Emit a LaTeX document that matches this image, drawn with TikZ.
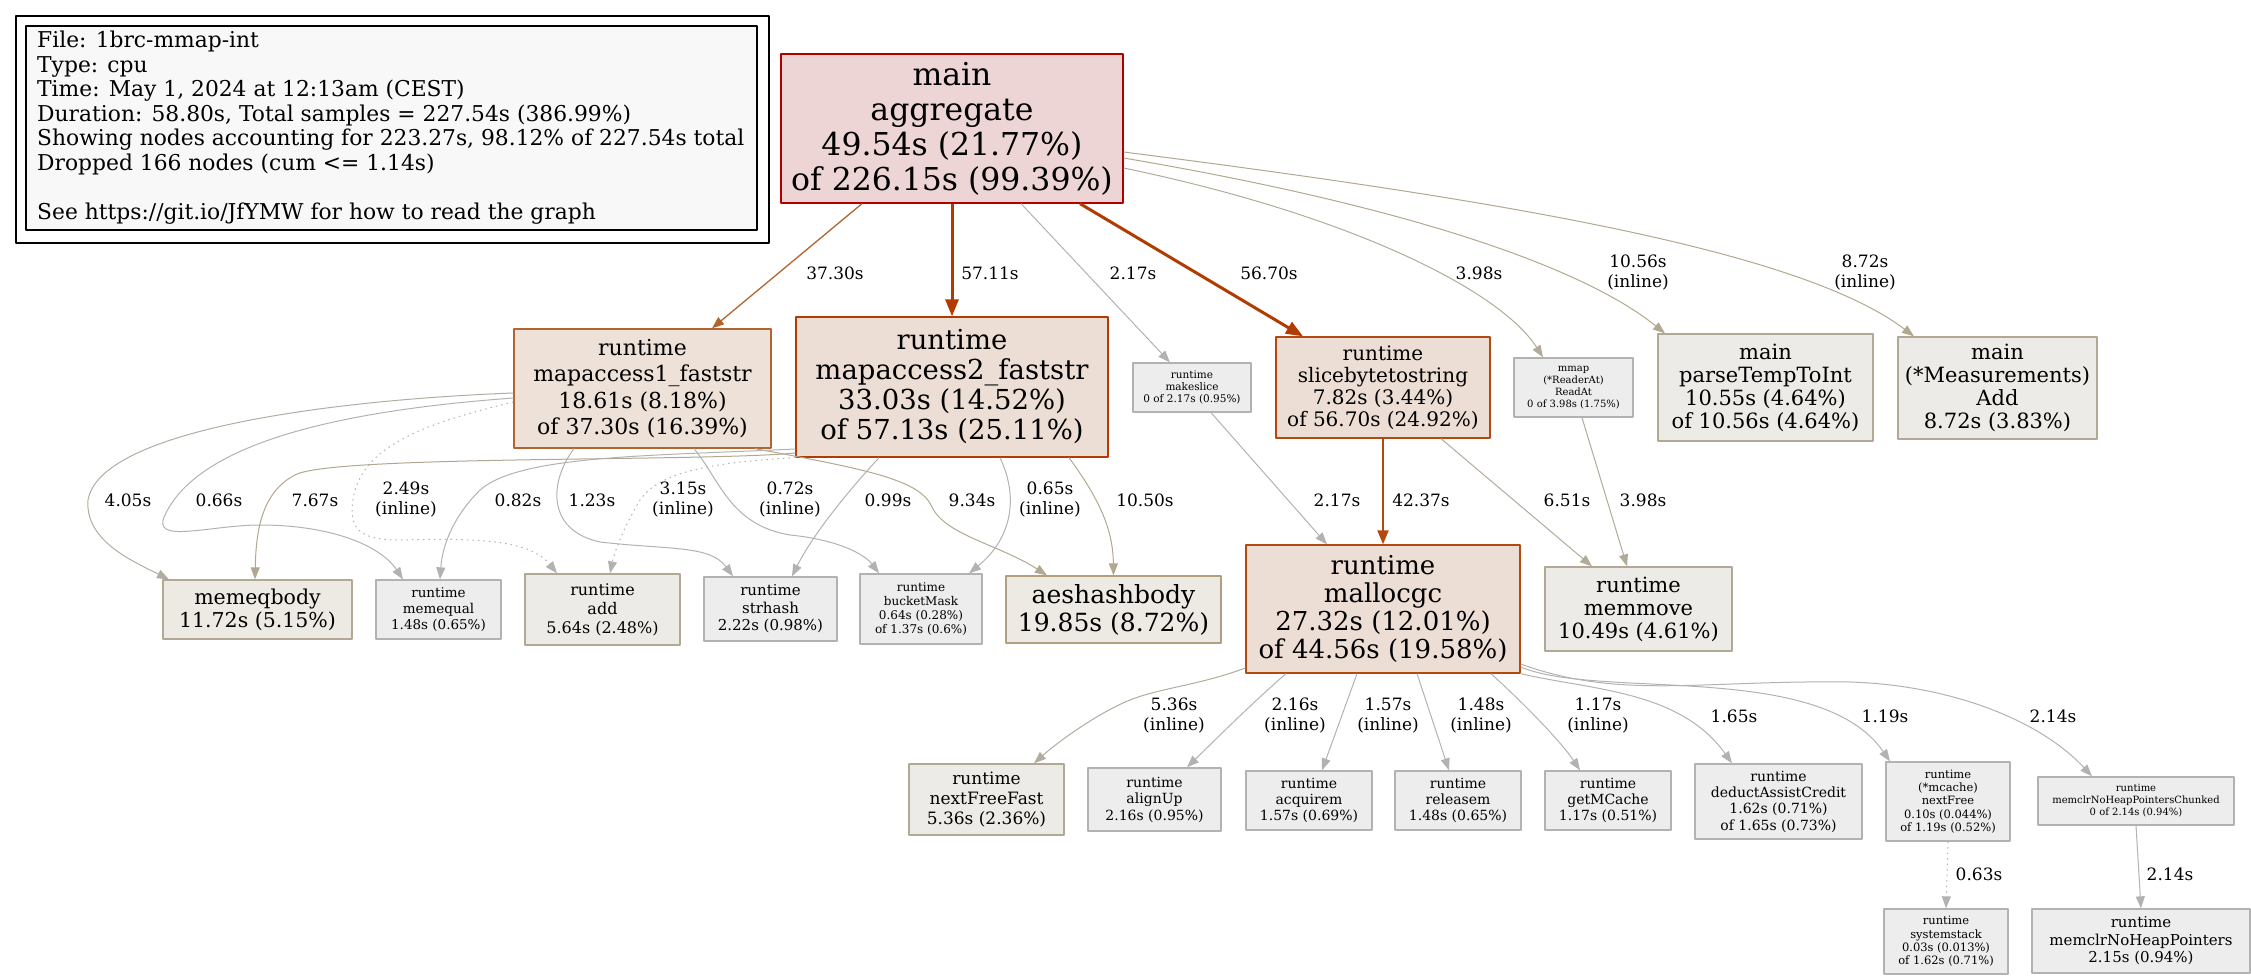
\documentclass[tikz,border=0pt]{standalone}
\usepackage{fontspec}
\setmainfont{DejaVu Serif}
\usetikzlibrary{arrows.meta,calc}

\definecolor{hotline}{HTML}{B20000}
\definecolor{hotfill}{HTML}{EDD5D5}
\definecolor{warmline}{HTML}{B23C00}
\definecolor{warmfill}{HTML}{EDDED5}
\definecolor{oneline}{HTML}{B2652F}
\definecolor{onefill}{HTML}{EDE1D8}
\definecolor{tanline}{HTML}{B2A893}
\definecolor{tanfill}{HTML}{EDEBE8}
\definecolor{aesline}{HTML}{B29F80}
\definecolor{aesfill}{HTML}{EDE9E3}
\definecolor{greyline}{HTML}{B2B2B2}
\definecolor{greyfill}{HTML}{EDEDED}
\definecolor{legfill}{HTML}{F8F8F8}
\definecolor{egrey}{HTML}{B2B2B2}
\definecolor{etan}{HTML}{B2A890}
\definecolor{eorange}{HTML}{B2642C}
\definecolor{ehot}{HTML}{B23C00}
\definecolor{emid}{HTML}{B2490E}

\begin{document}
\begin{tikzpicture}[x=1pt, y=-1pt, line join=round,
    box/.style={draw, rectangle, inner sep=0pt, align=center, line width=1.3pt},
    fnt/.style 2 args={font=\fontsize{#1}{#2}\selectfont},
    hotbox/.style={box, draw=hotline, fill=hotfill},
    warmbox/.style={box, draw=warmline, fill=warmfill},
    onebox/.style={box, draw=oneline, fill=onefill},
    tanbox/.style={box, draw=tanline, fill=tanfill},
    aesbox/.style={box, draw=aesline, fill=aesfill},
    greybox/.style={box, draw=greyline, fill=greyfill},
    lbl/.style={inner sep=0pt, align=center, font=\fontsize{17}{20}\selectfont},
    e/.style={-{Triangle[length=12,width=9]}, line width=1pt, draw=egrey},
    fat/.style={-{Triangle[length=17,width=13]}, line width=3pt, draw=ehot},
    dots/.style={dash pattern=on 1.5pt off 4pt}]
  \useasboundingbox (0,0) rectangle (2251,976);

  % legend
  \draw[line width=1.4pt] (16,16) rectangle (769,243);
  \draw[line width=1.4pt, fill=legfill] (26,26) rectangle (757,230);
  \node[anchor=north west, inner sep=0pt, align=left, fnt={21.8}{24.5}] (legend) at (37,31)
    {File: 1brc-mmap-int\\Type: cpu\\Time: May 1, 2024 at 12:13am (CEST)\\
     Duration: 58.80s, Total samples = 227.54s (386.99\%)\\
     Showing nodes accounting for 223.27s, 98.12\% of 227.54s total\\
     Dropped 166 nodes (cum <= 1.14s)\\ \\
     See https://git.io/JfYMW for how to read the graph};

  % nodes
  \node[hotbox, fnt={31.5}{35}, minimum width=342, minimum height=149] (main) at (952,128.5)
    {main\\aggregate\\49.54s (21.77\%)\\of 226.15s (99.39\%)};
  \node[onebox, fnt={22}{26.5}, minimum width=257, minimum height=119] (mapone) at (642.5,388.5)
    {runtime\\mapaccess1\_faststr\\18.61s (8.18\%)\\of 37.30s (16.39\%)};
  \node[warmbox, fnt={27.5}{30}, minimum width=312, minimum height=140] (maptwo) at (952,387)
    {runtime\\mapaccess2\_faststr\\33.03s (14.52\%)\\of 57.13s (25.11\%)};
  \node[greybox, fnt={10.5}{12}, minimum width=118, minimum height=49] (makeslice) at (1192,387.5)
    {runtime\\makeslice\\0 of 2.17s (0.95\%)};
  \node[warmbox, draw=emid, fnt={20}{22}, minimum width=214, minimum height=101] (slice) at (1383,387.5)
    {runtime\\slicebytetostring\\7.82s (3.44\%)\\of 56.70s (24.92\%)};
  \node[greybox, fnt={10}{12}, minimum width=119, minimum height=59] (readat) at (1573.5,387.5)
    {mmap\\(*ReaderAt)\\ReadAt\\0 of 3.98s (1.75\%)};
  \node[tanbox, fnt={21}{23}, minimum width=215, minimum height=107] (parse) at (1765.5,387.5)
    {main\\parseTempToInt\\10.55s (4.64\%)\\of 10.56s (4.64\%)};
  \node[tanbox, fnt={21}{23}, minimum width=199, minimum height=102] (measadd) at (1997.5,388)
    {main\\(*Measurements)\\Add\\8.72s (3.83\%)};

  \node[aesbox, draw=tanline, fnt={20.5}{23}, minimum width=189, minimum height=59] (memeq) at (257.5,609.5)
    {memeqbody\\11.72s (5.15\%)};
  \node[greybox, fnt={13.5}{16}, minimum width=125, minimum height=59] (memequal) at (438.5,609.5)
    {runtime\\memequal\\1.48s (0.65\%)};
  \node[greybox, draw=tanline, fill=tanfill, fnt={16}{19}, minimum width=155, minimum height=71] (add) at (602.5,609.5)
    {runtime\\add\\5.64s (2.48\%)};
  \node[greybox, fnt={15}{17.5}, minimum width=133, minimum height=64] (strhash) at (770.5,609)
    {runtime\\strhash\\2.22s (0.98\%)};
  \node[greybox, fnt={12}{14}, minimum width=122, minimum height=70] (bucket) at (921,609)
    {runtime\\bucketMask\\0.64s (0.28\%)\\of 1.37s (0.6\%)};
  \node[aesbox, fnt={25}{28}, minimum width=215, minimum height=67] (aeshash) at (1113.5,609.5)
    {aeshashbody\\19.85s (8.72\%)};
  \node[warmbox, draw=emid, fnt={26}{28}, minimum width=274, minimum height=128] (malloc) at (1383,609)
    {runtime\\mallocgc\\27.32s (12.01\%)\\of 44.56s (19.58\%)};
  \node[tanbox, fnt={21}{23}, minimum width=187, minimum height=84] (memmove) at (1638.5,609)
    {runtime\\memmove\\10.49s (4.61\%)};

  \node[greybox, draw=tanline, fill=tanfill, fnt={17}{20}, minimum width=155, minimum height=71] (nffast) at (986.5,799.5)
    {runtime\\nextFreeFast\\5.36s (2.36\%)};
  \node[greybox, fnt={14}{16.5}, minimum width=133, minimum height=63] (alignup) at (1154.5,799.5)
    {runtime\\alignUp\\2.16s (0.95\%)};
  \node[greybox, fnt={14}{16}, minimum width=126, minimum height=59] (acquirem) at (1309,800.5)
    {runtime\\acquirem\\1.57s (0.69\%)};
  \node[greybox, fnt={14}{16}, minimum width=126, minimum height=59] (releasem) at (1458,800.5)
    {runtime\\releasem\\1.48s (0.65\%)};
  \node[greybox, fnt={14}{16}, minimum width=126, minimum height=59] (getmc) at (1608,800.5)
    {runtime\\getMCache\\1.17s (0.51\%)};
  \node[greybox, fnt={14}{16.3}, minimum width=167, minimum height=75] (deduct) at (1778.5,801.5)
    {runtime\\deductAssistCredit\\1.62s (0.71\%)\\of 1.65s (0.73\%)};
  \node[greybox, fnt={11.5}{13.4}, minimum width=124, minimum height=79] (nextfree) at (1948,801.5)
    {runtime\\(*mcache)\\nextFree\\0.10s (0.044\%)\\of 1.19s (0.52\%)};
  \node[greybox, fnt={10}{12}, minimum width=196, minimum height=48] (chunked) at (2136,801)
    {runtime\\memclrNoHeapPointersChunked\\0 of 2.14s (0.94\%)};
  \node[greybox, fnt={11.5}{13.4}, minimum width=124, minimum height=65] (sysstack) at (1946,941.5)
    {runtime\\systemstack\\0.03s (0.013\%)\\of 1.62s (0.71\%)};
  \node[greybox, fnt={15}{17.5}, minimum width=218, minimum height=64] (memclr) at (2141,941)
    {runtime\\memclrNoHeapPointers\\2.15s (0.94\%)};

  % edges out of main
  \draw[e, draw=eorange, line width=1.3pt] ([xshift=-90]main.south) -- ([xshift=69.5]mapone.north);
  \draw[fat] (main.south) -- (maptwo.north);
  \draw[e] ([xshift=69]main.south) -- ([xshift=-22]makeslice.north);
  \draw[fat] ([xshift=128]main.south) -- ([xshift=-80]slice.north);
  \draw[e, draw=etan!70!egrey] ([yshift=-39.5]main.east) .. controls (1350,215) and (1500,290) .. ([xshift=-30.5]readat.north);
  \draw[e, draw=etan] ([yshift=-29.5]main.east) .. controls (1400,205) and (1580,265) .. ([xshift=-100.5]parse.north);
  \draw[e, draw=etan] ([yshift=-23.5]main.east) .. controls (1500,200) and (1800,250) .. ([xshift=-83.5]measadd.north);
  \node[lbl] (l1) at (835,273) {37.30s};
  \node[lbl] (l2) at (990,273) {57.11s};
  \node[lbl] (l3) at (1133,273) {2.17s};
  \node[lbl] (l4) at (1269,273) {56.70s};
  \node[lbl] (l5) at (1479,273) {3.98s};
  \node[lbl] (l6) at (1638,273) {10.56s\\(inline)};
  \node[lbl] (l7) at (1865,273) {8.72s\\(inline)};

  % edges out of mapaccess1
  \draw[e, draw=etan!50!egrey] ([yshift=-4.5]mapone.west) .. controls (330,400) and (100,430) .. (88,500)
    .. controls (85,540) and (130,560) .. ([xshift=-88.5]memeq.north);
  \draw[e] ([yshift=-9.5]mapone.west) .. controls (350,410) and (200,440) .. (165,515)
    .. controls (150,545) and (210,525) .. (260,525) .. controls (330,525) and (380,545) .. ([xshift=-35.5]memequal.north);
  \draw[e, dots] ([yshift=-13.5]mapone.west) .. controls (440,420) and (370,440) .. (355,490)
    .. controls (345,530) and (360,540) .. (400,540) .. controls (480,538) and (530,540) .. ([xshift=-45.5]add.north);
  \draw[e] ([xshift=-68.5]mapone.south) .. controls (550,480) and (545,530) .. (600,542)
    .. controls (670,550) and (710,545) .. ([xshift=-37.5]strhash.north);
  \draw[e] ([xshift=51.5]mapone.south) .. controls (720,480) and (730,525) .. (790,535)
    .. controls (840,540) and (865,555) .. ([xshift=-42]bucket.north);
  \draw[e, draw=etan] ([xshift=112.5]mapone.south) .. controls (870,470) and (920,480) .. (932,507)
    .. controls (945,535) and (1000,545) .. ([xshift=-66.5]aeshash.north);
  \node[lbl] (l8) at (128,500) {4.05s};
  \node[lbl] (l9) at (219,500) {0.66s};
  \node[lbl] (l11) at (406,500) {2.49s\\(inline)};
  \node[lbl] (l13) at (592,500) {1.23s};
  \node[lbl] (l15) at (790,500) {0.72s\\(inline)};
  \node[lbl] (l17) at (972,500) {9.34s};

  % edges out of mapaccess2
  \draw[e, draw=etan] ([yshift=-66]maptwo.west) .. controls (700,462) and (330,455) .. (295,475)
    .. controls (262,492) and (256,530) .. ([xshift=-2.5]memeq.north);
  \draw[e] ([yshift=-62]maptwo.west) .. controls (650,456) and (520,455) .. (480,490)
    .. controls (450,520) and (442,550) .. ([xshift=1.5]memequal.north);
  \draw[e, dots] (maptwo.south west) .. controls (720,462) and (660,470) .. (640,500)
    .. controls (625,525) and (615,550) .. ([xshift=7.5]add.north);
  \draw[e] ([xshift=-73]maptwo.south) .. controls (840,500) and (810,540) .. ([xshift=21.5]strhash.north);
  \draw[e] ([xshift=48]maptwo.south) .. controls (1020,500) and (1010,540) .. ([xshift=48]bucket.north);
  \draw[e, draw=etan] ([xshift=117]maptwo.south) .. controls (1100,500) and (1113,530) .. (aeshash.north);
  \node[lbl] (l10) at (315,500) {7.67s};
  \node[lbl] (l12) at (518,500) {0.82s};
  \node[lbl] (l14) at (683,500) {3.15s\\(inline)};
  \node[lbl] (l16) at (888,500) {0.99s};
  \node[lbl] (l18) at (1050,500) {0.65s\\(inline)};
  \node[lbl] (l19) at (1145,500) {10.50s};

  % other middle edges
  \draw[e] ([xshift=19]makeslice.south) -- ([xshift=-56]malloc.north);
  \draw[e, draw=emid, line width=2pt, -{Triangle[length=14,width=11]}] (slice.south) -- (malloc.north);
  \draw[e, draw=etan!70!egrey] ([xshift=58]slice.south) -- ([xshift=-46.5]memmove.north);
  \draw[e, draw=etan!70!egrey] ([xshift=8.5]readat.south) -- ([xshift=-11.5]memmove.north);
  \node[lbl] (l20) at (1337,500) {2.17s};
  \node[lbl] (l21) at (1421,500) {42.37s};
  \node[lbl] (l22) at (1567,500) {6.51s};
  \node[lbl] (l23) at (1643,500) {3.98s};

  % edges out of mallocgc
  \draw[e, draw=etan!60!egrey] ([yshift=-59]malloc.west) .. controls (1200,685) and (1160,688) .. (1130,700)
    .. controls (1100,712) and (1060,740) .. ([xshift=47.5]nffast.north);
  \draw[e] ([xshift=-97]malloc.south) .. controls (1250,705) and (1215,740) .. ([xshift=32.5]alignup.north);
  \draw[e] ([xshift=-26]malloc.south) -- ([xshift=13]acquirem.north);
  \draw[e] ([xshift=34]malloc.south) -- ([xshift=-9]releasem.north);
  \draw[e] ([xshift=108]malloc.south) .. controls (1520,700) and (1560,740) .. ([xshift=-28]getmc.north);
  \draw[e] (malloc.south east) .. controls (1590,690) and (1680,690) .. ([xshift=-46.5]deduct.north);
  \draw[e] ([yshift=-58]malloc.east) .. controls (1600,700) and (1820,660) .. ([xshift=-58]nextfree.north);
  \draw[e] ([yshift=-55]malloc.east) .. controls (1620,700) and (1700,680) .. (1850,682)
    .. controls (1950,685) and (2040,720) .. ([xshift=-44]chunked.north);
  \draw[e, dots] (nextfree.south) -- (sysstack.north);
  \draw[e] (chunked.south) -- (memclr.north);
  \node[lbl] (l24) at (1174,716) {5.36s\\(inline)};
  \node[lbl] (l25) at (1295,716) {2.16s\\(inline)};
  \node[lbl] (l26) at (1388,716) {1.57s\\(inline)};
  \node[lbl] (l27) at (1481,716) {1.48s\\(inline)};
  \node[lbl] (l28) at (1598,716) {1.17s\\(inline)};
  \node[lbl] (l29) at (1734,716) {1.65s};
  \node[lbl] (l30) at (1885,716) {1.19s};
  \node[lbl] (l31) at (2053,716) {2.14s};
  \node[lbl] (l32) at (1979,874) {0.63s};
  \node[lbl] (l33) at (2170,874) {2.14s};
\end{tikzpicture}
\end{document}
